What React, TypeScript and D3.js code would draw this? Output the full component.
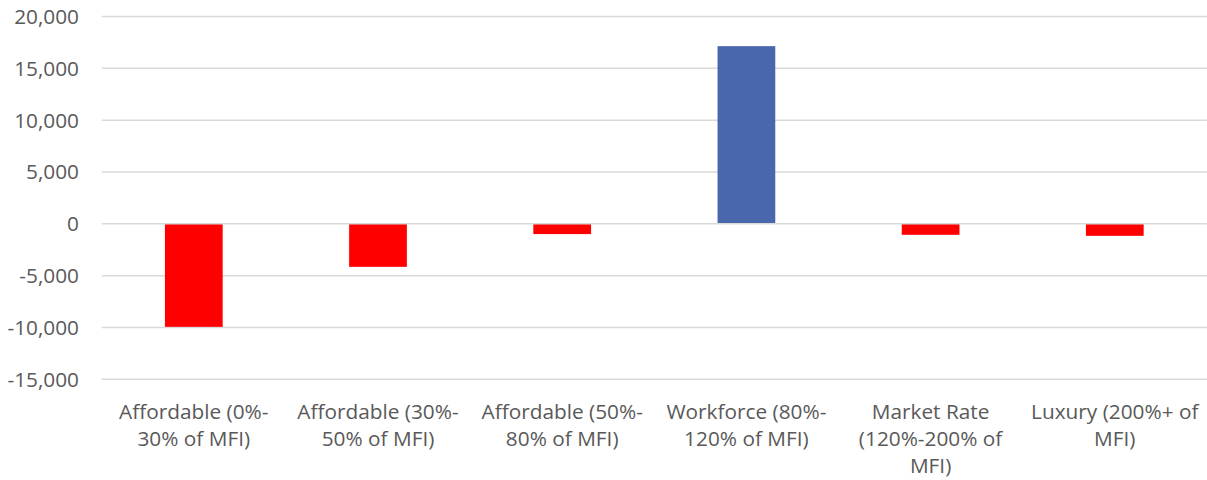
import React from "react";
import * as d3 from "d3";

// Net change in housing units by affordability band
const categories: string[][] = [
  ["Affordable (0%-", "30% of MFI)"],
  ["Affordable (30%-", "50% of MFI)"],
  ["Affordable (50%-", "80% of MFI)"],
  ["Workforce (80%-", "120% of MFI)"],
  ["Market Rate", "(120%-200% of", "MFI)"],
  ["Luxury (200%+ of", "MFI)"],
];
const values: number[] = [-9940, -4150, -990, 17140, -1060, -1160];
const yTicks: number[] = [-15000, -10000, -5000, 0, 5000, 10000, 15000, 20000];

const WIDTH = 1207;
const HEIGHT = 480;
const FONT = "'Open Sans', 'Liberation Sans', sans-serif";
const TEXT = "#595959";
const GRID = "#d9d9d9";

// Plain hyphen for negatives, comma thousands separator
const locale = d3.formatLocale({
  decimal: ".",
  thousands: ",",
  grouping: [3],
  currency: ["$", ""],
  minus: "-",
});
const fmt = locale.format(",");

export default function App() {
  const x = d3
    .scaleBand<number>()
    .domain(d3.range(values.length))
    .range([101.7, 1206.9])
    .padding(0);
  const y = d3.scaleLinear().domain([-15000, 20000]).range([379.3, 16.5]);
  const barW = x.bandwidth() / 3.19;

  return (
    <svg
      width={WIDTH}
      height={HEIGHT}
      style={{ position: "absolute", left: 0, top: 0, display: "block", background: "#fff" }}
      fontFamily={FONT}
    >
      {yTicks.map((t) => (
        <g key={t}>
          {t !== 0 && (
            <line x1={101.7} x2={1206.9} y1={y(t)} y2={y(t)} stroke={GRID} strokeWidth={1.5} />
          )}
          <text
            x={79}
            y={y(t)}
            dy="0.36em"
            textAnchor="end"
            fontSize={20.8}
            fill={TEXT}
          >
            {fmt(t)}
          </text>
        </g>
      ))}
      {values.map((v, i) => {
        const cx = (x(i) ?? 0) + x.bandwidth() / 2;
        const y0 = y(0);
        const y1 = y(v);
        return (
          <rect
            key={i}
            x={cx - barW / 2}
            y={Math.min(y0, y1)}
            width={barW}
            height={Math.abs(y1 - y0)}
            fill={v < 0 ? "#FF0000" : "#4A67AE"}
          />
        );
      })}
      <line x1={101.7} x2={1206.9} y1={y(0)} y2={y(0)} stroke={GRID} strokeWidth={1.5} />
      {categories.map((lines, i) => {
        const cx = (x(i) ?? 0) + x.bandwidth() / 2;
        return (
          <text key={i} x={cx} textAnchor="middle" fontSize={20.8} fill={TEXT}>
            {lines.map((l, j) => (
              <tspan key={j} x={cx} y={412 + j * 27} dy="0.36em">
                {l}
              </tspan>
            ))}
          </text>
        );
      })}
    </svg>
  );
}
